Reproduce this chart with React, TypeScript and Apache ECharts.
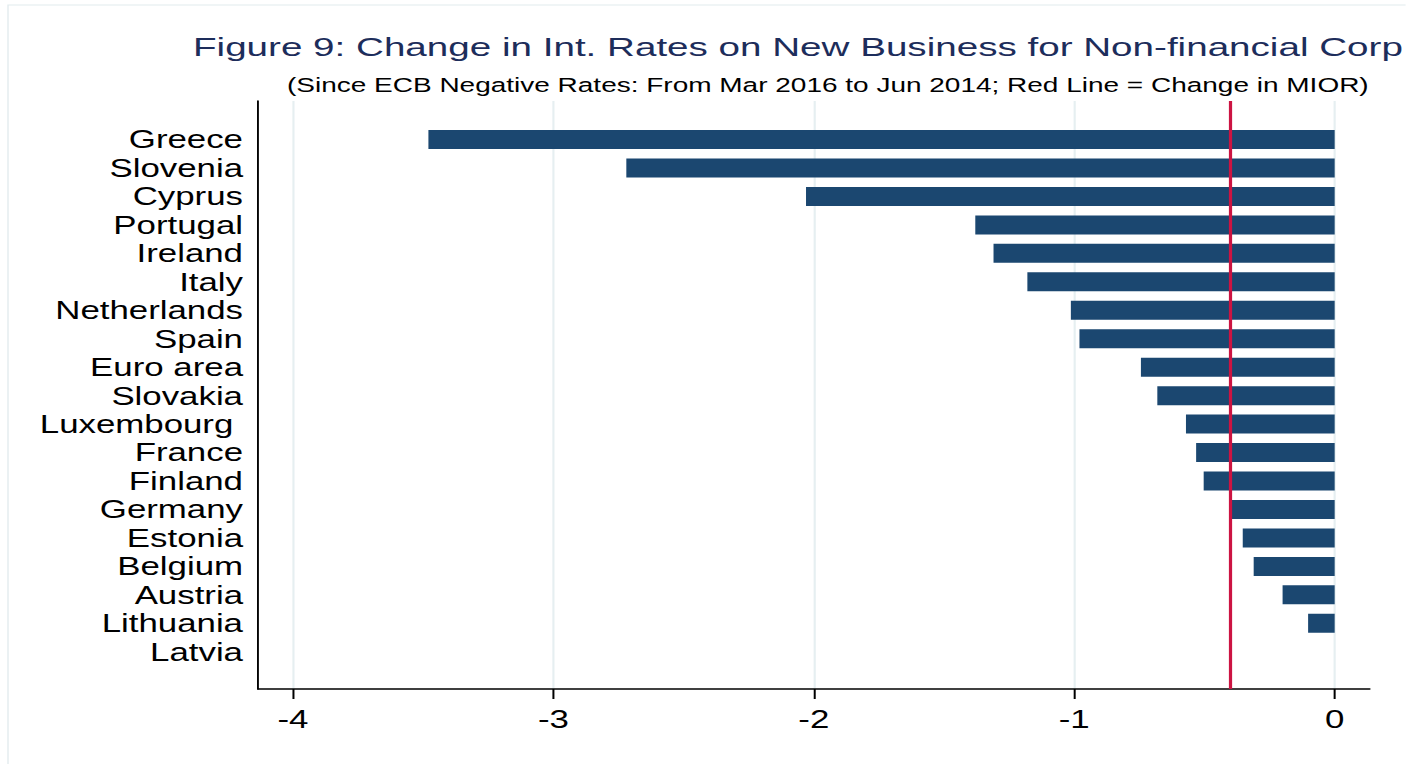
import React, { useEffect, useRef } from "react";
import * as echarts from "echarts";

// ---- data ----
const countries = [
  "Greece", "Slovenia", "Cyprus", "Portugal", "Ireland", "Italy", "Netherlands",
  "Spain", "Euro area", "Slovakia", "Luxembourg ", "France", "Finland", "Germany",
  "Estonia", "Belgium", "Austria", "Lithuania", "Latvia",
];
const rateChange = [
  -3.48, -2.72, -2.03, -1.38, -1.31, -1.18, -1.013,
  -0.98, -0.744, -0.681, -0.571, -0.532, -0.503, -0.401,
  -0.353, -0.311, -0.2, -0.102, 0,
];
const miorChange = -0.4;
const xTicks = [-4, -3, -2, -1, 0];
const titleText = "Figure 9: Change in Int. Rates on New Business for Non-financial Corp";
const subtitleText = "(Since ECB Negative Rates: From Mar 2016 to Jun 2014; Red Line = Change in MIOR)";

// ---- layout (the reference is horizontally stretched) ----
const S = 1.34;
const W = 1406 / S;
const H = 764;
const vx = (x: number) => x / S;
const XMIN = -4 - 35 / 260.5;
const XMAX = 35 / 260.5;
const FONT = "'Liberation Sans', Arial, Helvetica, sans-serif";

export default function App() {
  const ref = useRef<HTMLDivElement>(null);
  useEffect(() => {
    if (!ref.current) return;
    const chart = echarts.init(ref.current, null, { renderer: "svg" });
    const left = vx(258);
    const right = (1406 - 1370) / S;
    chart.setOption({
      animation: false,
      backgroundColor: "#ffffff",
      textStyle: { fontFamily: FONT },
      graphic: [
        {
          type: "rect",
          shape: { x: vx(8), y: 5, width: W + 50, height: H + 50 },
          style: { fill: "none", stroke: "#e2ebee", lineWidth: 1 },
          silent: true,
          z: -1,
        },
        {
          type: "text",
          x: vx(193),
          y: 34,
          scaleX: 1.13,
          style: {
            text: titleText,
            fontSize: 25.5,
            fontFamily: FONT,
            fill: "#1d2d5b",
            align: "left",
            verticalAlign: "top",
          },
          silent: true,
        },
        {
          type: "text",
          x: vx(287),
          y: 74,
          style: {
            text: subtitleText,
            fontSize: 20.9,
            fontFamily: FONT,
            fill: "#000000",
            align: "left",
            verticalAlign: "top",
          },
          silent: true,
        },
      ],
      grid: [
        { left, right, top: 101, bottom: 75 },
        { left, right, top: 125.3, bottom: 98 },
      ],
      xAxis: [
        {
          type: "value",
          gridIndex: 0,
          min: XMIN,
          max: XMAX,
          axisLine: { show: true, onZero: false, lineStyle: { color: "#000", width: 1.5 } },
          axisTick: { show: true, customValues: xTicks, length: 10, lineStyle: { color: "#000", width: 1.5 } },
          axisLabel: { customValues: xTicks, fontSize: 26, color: "#000", margin: 17, fontFamily: FONT },
          splitLine: { show: true, lineStyle: { color: "#e6eff1", width: 1.6 } },
        },
        {
          type: "value",
          gridIndex: 1,
          min: XMIN,
          max: XMAX,
          show: false,
          splitLine: { show: false },
        },
      ],
      yAxis: [
        {
          type: "value",
          gridIndex: 0,
          min: 0,
          max: 1,
          axisLine: { show: true, onZero: false, lineStyle: { color: "#000", width: 1.4 } },
          axisTick: { show: false },
          axisLabel: { show: false },
          splitLine: { show: false },
        },
        {
          type: "category",
          gridIndex: 1,
          data: countries,
          inverse: true,
          axisLine: { show: false },
          axisTick: { show: false },
          axisLabel: { interval: 0, fontSize: 26, color: "#000", margin: vx(15), fontFamily: FONT },
          splitLine: { show: false },
        },
      ],
      series: [
        {
          type: "bar",
          xAxisIndex: 1,
          yAxisIndex: 1,
          data: rateChange,
          barWidth: 19,
          itemStyle: { color: "#1b4770" },
          z: 2,
        },
        {
          type: "line",
          xAxisIndex: 0,
          yAxisIndex: 0,
          data: [[miorChange, 0], [miorChange, 1]],
          symbol: "none",
          lineStyle: { color: "#cc1442", width: 2.4 },
          z: 5,
        },
      ],
    });
    return () => chart.dispose();
  }, []);
  return (
    <div
      ref={ref}
      style={{
        position: "absolute",
        left: 0,
        top: 0,
        width: W,
        height: H,
        transform: `scaleX(${S})`,
        transformOrigin: "0 0",
        background: "#fff",
      }}
    />
  );
}
